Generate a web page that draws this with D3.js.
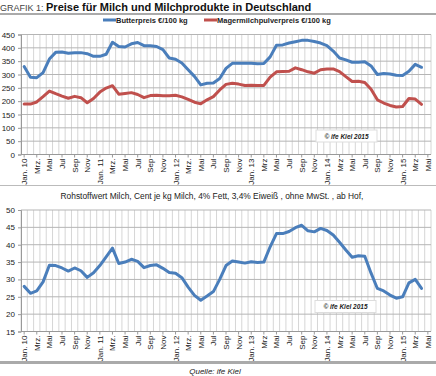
<!DOCTYPE html>
<html>
<head>
<meta charset="utf-8">
<script src="https://cdn.jsdelivr.net/npm/d3@7"></script>
<style>
  body { margin: 0; background: #fff; }
  text { font-family: "Liberation Sans", Arial, sans-serif; }
</style>
</head>
<body>
<svg id="chart" width="436" height="376"></svg>
<script>
// months Jan 2010 .. May 2015 (65 categories), labels every second month
const tickLabels = ["Jan. 10", "Mrz.", "Mai", "Jul", "Sep", "Nov",
    "Jan. 11", "Mrz.", "Mai", "Jul", "Sep", "Nov",
    "Jan. 12", "Mrz.", "Mai", "Jul", "Sep", "Nov",
    "Jan. 13", "Mrz", "Mai", "Jul", "Sep", "Nov",
    "Jan. 14", "Mrz", "Mai", "Jul", "Sep", "Nov",
    "Jan. 15", "Mrz", "Mai"];

// Butterpreis €/100 kg (Jan 10 .. Apr 15)
const butter = [330, 290, 288, 307, 358, 383, 384, 380, 382, 382, 378, 368,
    368, 376, 421, 405, 403, 415, 420, 408, 408, 405, 393, 362,
    357, 343, 318, 293, 261, 267, 268, 285, 323, 342, 342, 342,
    342, 340, 341, 366, 410, 411, 418, 423, 428, 428, 424, 418,
    408, 388, 362, 355, 346, 346, 348, 332, 300, 304, 302, 297,
    296, 312, 338, 327];

// Magermilchpulverpreis €/100 kg
const smp = [189, 189, 197, 217, 238, 228, 219, 211, 218, 213, 194, 210,
    234, 249, 258, 226, 229, 232, 225, 213, 221, 222, 220, 220,
    222, 216, 207, 196, 190, 205, 217, 242, 263, 267, 264, 259,
    260, 259, 259, 290, 310, 311, 312, 325, 318, 310, 305, 318,
    321, 321, 311, 292, 274, 275, 270, 245, 205, 193, 184, 178,
    180, 210, 208, 188];

// Rohstoffwert Milch, Cent je kg
const rohstoff = [28, 26, 26.7, 29.3, 34.1, 34, 33.3, 32.4, 33.3, 32.5, 30.6, 31.9,
    34, 36.5, 39, 34.6, 35, 35.8, 35.2, 33.4, 34, 34.2, 33.2, 32,
    31.8, 30.5, 27.8, 25.4, 24, 25.2, 26.5, 30, 34, 35.3, 35, 34.7,
    35.1, 34.9, 35, 39.4, 43.2, 43.2, 43.8, 44.9, 45.6, 44, 43.7, 44.7,
    44.1, 42.8, 40.7, 38.5, 36.4, 36.8, 36.7, 31.8, 27.4, 26.7, 25.5, 24.6,
    25, 29, 30, 27.4];

const topTicks = [0, 50, 100, 150, 200, 250, 300, 350, 400, 450];
const bottomTicks = [15, 20, 25, 30, 35, 40, 45, 50];

const svg = d3.select('#chart');
const nMonths = 65;
const x = d3.scaleBand().domain(d3.range(nMonths)).range([21, 431]);
const cx = i => x(i) + x.bandwidth() / 2;

// title
const title = svg.append('text').attr('x', 0).attr('y', 11);
title.append('tspan').attr('font-size', 9).attr('fill', '#444').text('GRAFIK 1: ');
title.append('tspan').attr('font-size', 11).attr('font-weight', 'bold').attr('fill', '#111')
    .text('Preise für Milch und Milchprodukte in Deutschland');
svg.append('rect').attr('x', 0).attr('y', 13).attr('width', 436).attr('height', 2).attr('fill', '#aaa');

function panel(cfg) {
    const y = d3.scaleLinear().domain(cfg.domain).range(cfg.range);
    const g = svg.append('g');
    const [x0, x1] = x.range();

    // vertical monthly gridlines
    g.selectAll('.vg').data(d3.range(nMonths + 1)).join('line')
        .attr('x1', i => x0 + i * x.step()).attr('x2', i => x0 + i * x.step())
        .attr('y1', cfg.range[1]).attr('y2', cfg.range[0])
        .attr('stroke', '#d6d6d6').attr('stroke-width', 1);

    // horizontal gridlines
    g.selectAll('.hg').data(cfg.ticks).join('line')
        .attr('x1', x0).attr('x2', x1)
        .attr('y1', d => y(d)).attr('y2', d => y(d))
        .attr('stroke', '#b5b5b5').attr('stroke-width', 1);

    // y axis
    const ya = g.append('g').attr('transform', `translate(${x0},0)`)
        .call(d3.axisLeft(y).tickValues(cfg.ticks).tickSize(3).tickPadding(3));
    ya.select('.domain').attr('stroke', '#999');
    ya.selectAll('.tick line').attr('stroke', '#999');
    ya.selectAll('text').attr('font-size', 8).attr('fill', '#222')
        .attr('font-family', '"Liberation Sans", Arial, sans-serif');

    // x axis
    g.append('line').attr('x1', x0).attr('x2', x1)
        .attr('y1', cfg.range[0]).attr('y2', cfg.range[0]).attr('stroke', '#999');
    g.selectAll('.xt').data(tickLabels).join('line')
        .attr('x1', (d, k) => cx(k * 2)).attr('x2', (d, k) => cx(k * 2))
        .attr('y1', cfg.range[0]).attr('y2', cfg.range[0] + 3).attr('stroke', '#999');
    g.selectAll('.xl').data(tickLabels).join('text')
        .attr('transform', (d, k) => `translate(${cx(k * 2) + 3},${cfg.range[0] + 4}) rotate(-90)`)
        .attr('text-anchor', 'end')
        .attr('font-size', 8).attr('fill', '#222')
        .text(d => d);

    // series
    cfg.series.forEach(s => {
        g.append('path').datum(s.values)
            .attr('fill', 'none').attr('stroke', s.color)
            .attr('stroke-width', 3).attr('stroke-linejoin', 'round').attr('stroke-linecap', 'round')
            .attr('d', d3.line().x((d, i) => cx(i)).y(d => y(d)));
    });

    // copyright box
    const b = g.append('g').attr('transform', `translate(${cfg.box[0]},${cfg.box[1]})`);
    b.append('rect').attr('width', 61).attr('height', 12)
        .attr('fill', '#fff').attr('stroke', '#ddd');
    b.append('text').attr('x', 30.5).attr('y', 8.5).attr('text-anchor', 'middle')
        .attr('font-size', 6.5).attr('font-weight', 'bold').attr('font-style', 'italic')
        .attr('fill', '#222').text('© ife Kiel 2015');
    return y;
}

// top panel: butter and skimmed milk powder
panel({
    domain: [0, 450], range: [154.5, 34.5], ticks: topTicks, box: [316, 130],
    series: [{ values: butter, color: '#4a7ebb' }, { values: smp, color: '#c0504d' }]
});

// legend
const legend = [
    { label: 'Butterpreis €/100 kg', color: '#4a7ebb', x: 103 },
    { label: 'Magermilchpulverpreis €/100 kg', color: '#c0504d', x: 204 }
];
const lg = svg.selectAll('.legend').data(legend).join('g')
    .attr('transform', d => `translate(${d.x},20)`);
lg.append('line').attr('x1', 0).attr('x2', 13).attr('y1', 0).attr('y2', 0)
    .attr('stroke', d => d.color).attr('stroke-width', 3);
lg.append('text').attr('x', 13).attr('y', 2.8)
    .attr('font-size', 7.5).attr('font-weight', 'bold').attr('fill', '#222')
    .text(d => d.label);

// separator
svg.append('line').attr('x1', 0).attr('x2', 436).attr('y1', 185.5).attr('y2', 185.5)
    .attr('stroke', '#bbb');

svg.append('text').attr('x', 212).attr('y', 199).attr('text-anchor', 'middle')
    .attr('font-size', 8.4).attr('fill', '#222')
    .text('Rohstoffwert Milch, Cent je kg Milch, 4% Fett, 3,4% Eiweiß , ohne MwSt. , ab Hof,');

// bottom panel: raw material value of milk
panel({
    domain: [15, 50], range: [331.5, 210], ticks: bottomTicks, box: [315, 300.5],
    series: [{ values: rohstoff, color: '#4a7ebb' }]
});

svg.append('rect').attr('x', 0).attr('y', 361).attr('width', 436).attr('height', 3).attr('fill', '#aaa');
svg.append('text').attr('x', 215).attr('y', 374).attr('text-anchor', 'middle')
    .attr('font-size', 8).attr('font-style', 'italic').attr('fill', '#222')
    .text('Quelle: ife Kiel');
</script>
</body>
</html>
